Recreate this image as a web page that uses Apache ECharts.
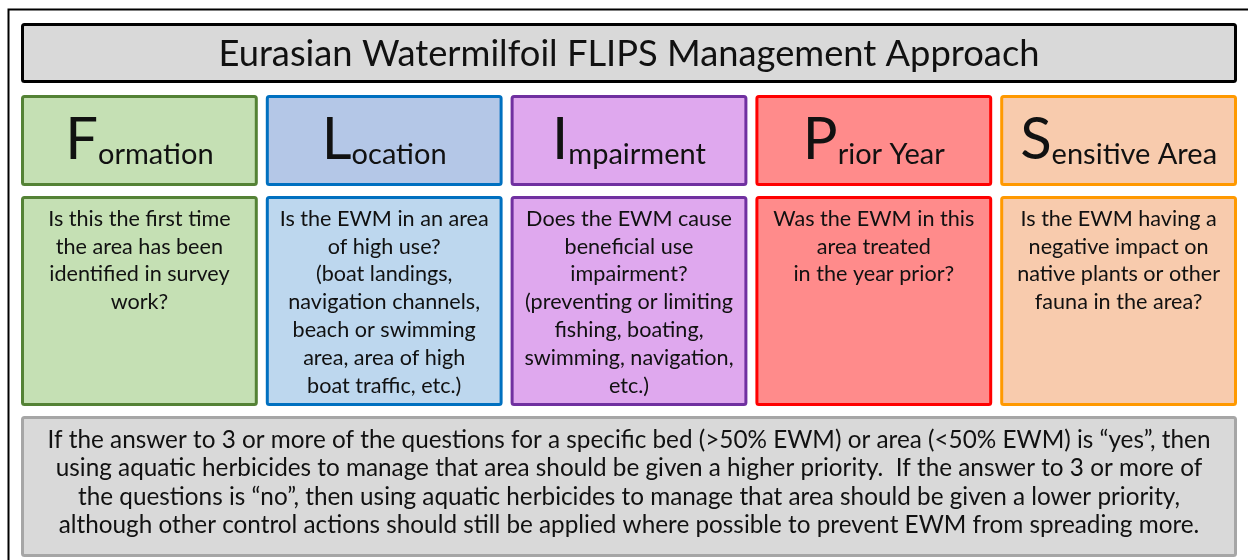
<!DOCTYPE html>
<html><head><meta charset="utf-8">
<script src="https://cdn.jsdelivr.net/npm/echarts@6/dist/echarts.min.js"></script>
<style>html,body{margin:0;padding:0;background:#fff}#c{width:1248px;height:560px}</style>
</head><body><div id="c"></div>
<script>
// ---- content ----
const titleText = ['Eurasian Watermilfoil FLIPS Management Approach'];
const initials = ['F', 'L', 'I', 'P', 'S'];
const headings = ['ormation', 'ocation', 'mpairment', 'rior Year', 'ensitive Area'];
const questions = [
  'Is this the first time\nthe area has been\nidentified in survey\nwork?',
  'Is the EWM in an area\nof high use?\n(boat landings,\nnavigation channels,\nbeach or swimming\narea, area of high\nboat traffic, etc.)',
  'Does the EWM cause\nbeneficial use\nimpairment?\n(preventing or limiting\nfishing, boating,\nswimming, navigation,\netc.)',
  'Was the EWM in this\narea treated\nin the year prior?',
  'Is the EWM having a\nnegative impact on\nnative plants or other\nfauna in the area?'
];
const footerLines = [
  'If the answer to 3 or more of the questions for a specific bed (>50% EWM) or area (<50% EWM) is \u201cyes\u201d, then',
  'using aquatic herbicides to manage that area should be given a higher priority.  If the answer to 3 or more of',
  'the questions is \u201cno\u201d, then using aquatic herbicides to manage that area should be given a lower priority,',
  'although other control actions should still be applied where possible to prevent EWM from spreading more.'
];

// ---- styles ----
const headFill = ['#c5e0b4', '#b4c7e7', '#dfa8ee', '#ff8b8b', '#f8cbad'];
const qFill = ['#c5e0b4', '#bdd7ee', '#dfa8ee', '#ff8b8b', '#f8cbad'];
const edge = ['#548235', '#0070c0', '#7030a0', '#ff0000', '#ff9900'];
const FONT = 'Lato, "Open Sans", sans-serif';
const INK = '#111111';

function cell(api, gap) {
  const i = api.value(0);
  const top = api.coord([i, 1]);
  const bot = api.coord([i, 0]);
  const w = api.size([1, 0])[0] - gap;
  return { cx: top[0], x: top[0] - w / 2, y: top[1], w: w, h: bot[1] - top[1] };
}
function box(b, fill, stroke) {
  return { type: 'rect', shape: { x: b.x + 1.5, y: b.y + 1.5, width: b.w - 3, height: b.h - 3, r: 2 },
    style: { fill: fill, stroke: stroke, lineWidth: 3 } };
}

const grids = [
  { left: 21, right: 11, top: 23, height: 60 },
  { left: 17, right: 7, top: 95, height: 91 },
  { left: 17, right: 7, top: 196, height: 210 },
  { left: 21, right: 11, top: 416, height: 141 }
];
const xCats = [titleText, initials, initials, ['footer']];

const option = {
  animation: false,
  backgroundColor: '#ffffff',
  grid: grids,
  xAxis: xCats.map((d, k) => ({ type: 'category', data: d, gridIndex: k, show: false })),
  yAxis: grids.map((g, k) => ({ type: 'value', min: 0, max: 1, gridIndex: k, show: false })),
  graphic: [{
    type: 'polyline', silent: true,
    shape: { points: [[8.5, 560], [8.5, 9.5], [1248, 9.5]] },
    style: { stroke: '#000', lineWidth: 2, fill: null }
  }],
  series: [
    {
      type: 'custom', xAxisIndex: 0, yAxisIndex: 0, silent: true,
      data: titleText.map((t, i) => [i]),
      renderItem: function (params, api) {
        const b = cell(api, 0);
        return { type: 'group', children: [
          box(b, '#d9d9d9', '#000000'),
          { type: 'text', style: { x: b.cx, y: b.y + b.h / 2 + 1, text: titleText[api.value(0)], align: 'center', verticalAlign: 'middle',
            fontFamily: FONT, fontSize: 36.3, fill: INK } }
        ] };
      }
    },
    {
      type: 'custom', xAxisIndex: 1, yAxisIndex: 1, silent: true,
      data: initials.map((t, i) => [i]),
      renderItem: function (params, api) {
        const i = api.value(0);
        const b = cell(api, 8);
        return { type: 'group', children: [
          box(b, headFill[i], edge[i]),
          { type: 'text', style: { x: b.cx, y: b.y + b.h / 2 - 1, align: 'center', verticalAlign: 'middle',
            text: '{a|' + initials[i] + '}{b|' + headings[i] + '}',
            rich: {
              a: { fontFamily: FONT, fontSize: 58, lineHeight: 60, fill: INK, verticalAlign: 'bottom' },
              b: { fontFamily: FONT, fontSize: 29, lineHeight: 46, fill: INK, verticalAlign: 'bottom' }
            } } }
        ] };
      }
    },
    {
      type: 'custom', xAxisIndex: 2, yAxisIndex: 2, silent: true,
      data: questions.map((t, i) => [i]),
      renderItem: function (params, api) {
        const i = api.value(0);
        const b = cell(api, 8);
        return { type: 'group', children: [
          box(b, qFill[i], edge[i]),
          { type: 'text', style: { x: b.cx, y: b.y + 9, text: questions[i], align: 'center', verticalAlign: 'top',
            fontFamily: FONT, fontSize: 21.6, lineHeight: 27.8, fill: INK } }
        ] };
      }
    },
    {
      type: 'custom', xAxisIndex: 3, yAxisIndex: 3, silent: true,
      data: [[0]],
      renderItem: function (params, api) {
        const b = cell(api, 0);
        return { type: 'group', children: [
          box(b, '#d9d9d9', '#a6a6a6'),
          { type: 'text', style: { x: b.cx, y: b.y + b.h / 2 - 4, text: footerLines.join('\n'), align: 'center', verticalAlign: 'middle',
            fontFamily: FONT, fontSize: 24.3, lineHeight: 28.4, fill: INK } }
        ] };
      }
    }
  ]
};
const chart = echarts.init(document.getElementById('c'), null, { renderer: 'canvas' });
chart.setOption(option);
</script></body></html>
